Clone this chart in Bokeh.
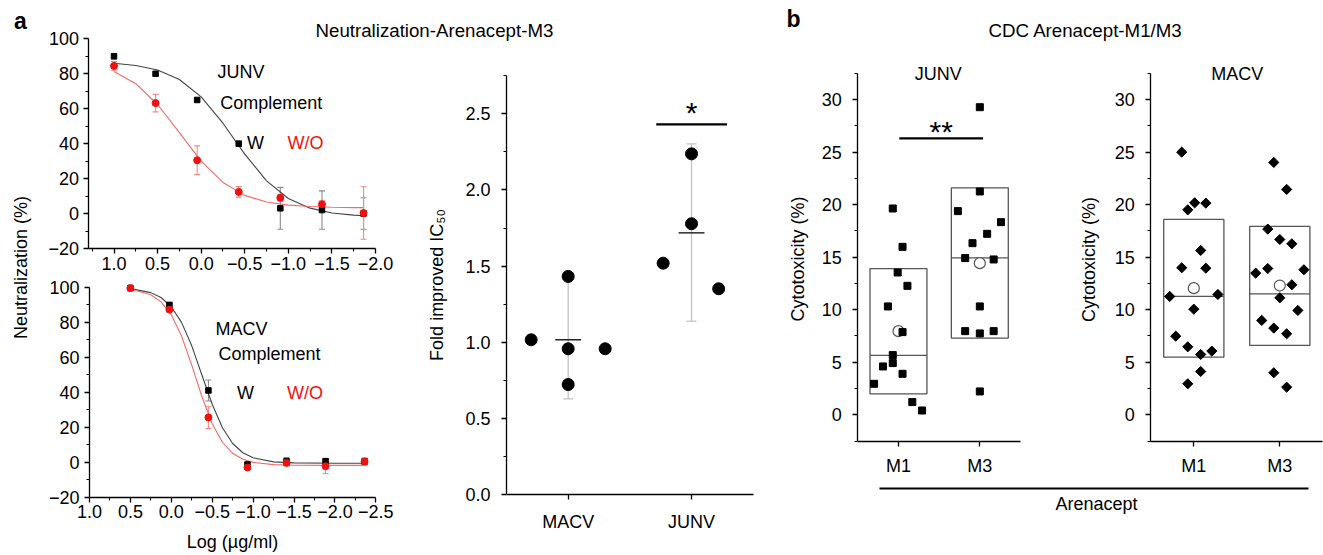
import math
from bokeh.plotting import figure
from bokeh.models import (Range1d, FixedTicker, CustomJSTickFormatter, Label, LinearAxis,
                          Whisker, TeeHead, ColumnDataSource)
from bokeh.core.properties import value
from bokeh.embed import file_html
from bokeh.resources import INLINE

FONT = "Liberation Sans"
RED = "#ee1111"

# ---------------- panel a: neutralization (log ug/ml vs %) ----------------
junv_logc = [1.0, 0.523, 0.046, -0.431, -0.908, -1.386, -1.863]
junv_w = [90.0, 80.0, 65.0, 40.0, 3.0, 2.0, 0.0]
junv_w_err = [1.5, 1.0, 1.0, 1.5, 12.0, 11.0, 9.0]
junv_wo = [84.5, 63.2, 30.5, 12.4, 9.0, 5.3, 0.3]
junv_wo_err = [2.5, 5.0, 8.2, 3.0, 2.0, 2.0, 15.0]

curve_junv_x = [1.0, 0.75, 0.5, 0.25, 0.0, -0.25, -0.5, -0.75, -1.0, -1.25, -1.5, -1.75, -1.863]
curve_junv_w = [86.0, 84.7, 82.1, 76.7, 66.8, 51.7, 34.0, 18.7, 8.6, 3.1, 0.3, -0.9, -1.3]
curve_junv_wo = [81.3, 74.3, 62.4, 46.3, 30.0, 17.8, 10.4, 6.6, 4.8, 4.0, 3.6, 3.4, 3.4]

macv_logc = [0.5, 0.023, -0.454, -0.931, -1.409, -1.886, -2.363]
macv_w = [99.5, 89.9, 41.0, -1.3, 0.6, 0.6, 0.4]
macv_w_err = [0.5, 1.0, 6.0, 1.0, 2.0, 1.0, 2.0]
macv_wo = [99.5, 87.2, 25.6, -3.0, -0.4, -2.3, 0.4]
macv_wo_err = [0.5, 1.0, 6.4, 1.0, 1.5, 4.2, 1.5]

curve_macv_x = [0.5, 0.25, 0.125, 0.0, -0.125, -0.25, -0.375, -0.5, -0.625, -0.75, -0.875,
                -1.0, -1.25, -1.5, -2.0, -2.363]
curve_macv_w = [99.2, 96.9, 94.1, 88.8, 79.9, 66.5, 49.7, 33.1, 19.7, 10.7, 5.4,
                2.5, 0.2, -0.4, -0.6, -0.6]
curve_macv_wo = [99.0, 95.7, 91.6, 84.2, 72.1, 55.5, 37.4, 22.0, 11.4, 5.1, 1.7,
                 -0.1, -1.4, -1.7, -1.8, -1.8]

# ---------------- panel a: fold improved IC50 ----------------
fold_cats = ["MACV", "JUNV"]
fold_macv = [1.016, 1.432, 0.957, 0.722, 0.957]
fold_macv_jitter = [-0.30, 0.0, 0.0, 0.0, 0.30]
fold_junv = [1.519, 2.237, 1.778, 1.351]
fold_junv_jitter = [-0.23, 0.0, 0.0, 0.22]
fold_mean = [1.016, 1.718]
fold_low = [0.628, 1.138]
fold_high = [1.432, 2.303]
fold_sig = (1.714, 2.288, 2.43)   # bar from, to, height
fold_star = "*"

# ---------------- panel b: cytotoxicity ----------------
b_cats = ["M1", "M3"]
junv_m1 = [19.63, 15.98, 13.54, 12.27, 10.31, 7.87, 5.68, 4.92, 4.60, 3.90, 2.95, 1.21, 0.41]
junv_m1_jit = [-0.07, 0.05, -0.01, 0.11, -0.13, 0.05, -0.07, -0.07, -0.19, 0.05, -0.30, 0.17, 0.29]
junv_m3 = [29.27, 21.25, 19.38, 18.33, 17.22, 16.33, 14.91, 14.78, 10.31, 7.96, 7.74, 7.96, 2.22]
junv_m3_jit = [0.0, 0.0, -0.27, 0.26, 0.09, -0.09, -0.18, 0.17, 0.0, -0.18, 0.0, 0.17, 0.0]
junv_box_low = [2.0, 7.3]
junv_box_high = [13.9, 21.6]
junv_median = [5.65, 14.94]
junv_mean = [7.96, 14.43]
junv_sig = (1.01, 2.04, 26.3)

macv_m1 = [24.99, 20.17, 20.14, 19.5, 15.64, 13.99, 13.95, 11.26, 11.45, 10.05, 7.48, 6.47,
           5.74, 6.06, 4.12, 2.95]
macv_m1_jit = [-0.14, 0.01, 0.14, -0.07, 0.08, -0.14, 0.14, -0.28, 0.28, 0.0, -0.21, -0.07,
               0.08, 0.21, 0.08, -0.07]
macv_m3 = [24.01, 21.44, 17.67, 16.68, 16.27, 13.48, 13.92, 13.8, 12.37, 11.13, 9.93, 8.98,
           8.25, 7.71, 4.0, 2.63]
macv_m3_jit = [-0.07, 0.08, -0.14, 0.0, 0.14, -0.28, -0.14, 0.28, 0.14, 0.0, 0.21, -0.21,
               -0.07, 0.08, -0.07, 0.08]
macv_box_low = [5.49, 6.6]
macv_box_high = [18.59, 17.92]
macv_median = [11.26, 11.51]
macv_mean = [12.05, 12.3]

# ---------------- one canvas, page-pixel coordinates for the free texts ----------------
X0, X1, Y0, Y1 = 0, 1323, 0, 555
p = figure(width=X1 - X0, height=Y1 - Y0, x_range=Range1d(X0, X1), y_range=Range1d(Y1, Y0),
           x_axis_type=None, y_axis_type=None, min_border=0, output_backend="svg",
           toolbar_location=None, tools="")
p.outline_line_color = None
p.background_fill_color = "white"
p.border_fill_color = "white"


def lin_range(pa, va, pb, vb, lo, hi):
    k = (vb - va) / (pb - pa)
    return Range1d(va + (lo - pa) * k, va + (hi - pa) * k)


def add_panel(name, xpix, ypix):
    """xpix/ypix: two (pixel, value) pairs fixing each panel scale on the page."""
    (xa, xva), (xb, xvb) = xpix
    (ya, yva), (yb, yvb) = ypix
    p.extra_x_ranges[name] = lin_range(xa, xva, xb, xvb, X0, X1)
    p.extra_y_ranges[name] = lin_range(ya, yva, yb, yvb, Y1, Y0)


def minus_fmt(decimals):
    return CustomJSTickFormatter(code=(
        "const s = Math.abs(tick).toFixed(%d);" % decimals +
        "return (tick < -1e-9 ? '\u2212' : '') + s;"))


def style_axis(ax, standoff):
    ax.axis_line_color = "black"
    ax.axis_line_width = 1.3
    ax.major_tick_line_color = "black"
    ax.major_tick_line_width = 1.3
    ax.minor_tick_line_color = "black"
    ax.minor_tick_line_width = 1.1
    ax.major_tick_in = 0
    ax.major_tick_out = 5
    ax.minor_tick_in = 0
    ax.minor_tick_out = 3
    ax.major_label_text_font = FONT
    ax.major_label_text_font_size = "18px"
    ax.major_label_text_color = "black"
    ax.major_label_standoff = standoff


def add_axes(name, xbounds, ybounds, xt, xminor, yt, yminor, xfmt=None, yfmt=None,
             xover=None, xstand=3, ystand=5):
    xa = LinearAxis(x_range_name=name, y_range_name=name, fixed_location=ybounds[0],
                    bounds=xbounds, ticker=FixedTicker(ticks=xt, minor_ticks=xminor))
    if xfmt is not None:
        xa.formatter = xfmt
    if xover is not None:
        xa.major_label_overrides = xover
    style_axis(xa, xstand)
    p.add_layout(xa, "below")
    ya = LinearAxis(x_range_name=name, y_range_name=name, fixed_location=min(xbounds),
                    bounds=ybounds, ticker=FixedTicker(ticks=yt, minor_ticks=yminor))
    if yfmt is not None:
        ya.formatter = yfmt
    style_axis(ya, ystand)
    p.add_layout(ya, "left")


def neut_panel(name, xpix, ypix, xbounds, xt, xminor, logc, w, w_err, wo, wo_err, cx, cw, cwo):
    add_panel(name, xpix, ypix)
    # reversed x-axis: its left end is the larger value
    xa = LinearAxis(x_range_name=name, y_range_name=name, fixed_location=-20,
                    bounds=xbounds, ticker=FixedTicker(ticks=xt, minor_ticks=xminor),
                    formatter=minus_fmt(1))
    style_axis(xa, 3)
    p.add_layout(xa, "below")
    ya = LinearAxis(x_range_name=name, y_range_name=name, fixed_location=max(xbounds),
                    bounds=(-20, 100),
                    ticker=FixedTicker(ticks=[-20, 0, 20, 40, 60, 80, 100],
                                       minor_ticks=[-10, 10, 30, 50, 70, 90]),
                    formatter=minus_fmt(0))
    style_axis(ya, 5)
    p.add_layout(ya, "left")
    kw = dict(x_range_name=name, y_range_name=name)
    p.line(cx, cw, line_color="#444444", line_width=1.1, **kw)
    p.line(cx, cwo, line_color="#f26a6a", line_width=1.1, **kw)
    sw = ColumnDataSource(dict(x=logc, upper=[a + b for a, b in zip(w, w_err)],
                               lower=[a - b for a, b in zip(w, w_err)]))
    swo = ColumnDataSource(dict(x=logc, upper=[a + b for a, b in zip(wo, wo_err)],
                                lower=[a - b for a, b in zip(wo, wo_err)]))
    for src, col in ((sw, "#8a8a8a"), (swo, "#f28a8a")):
        p.add_layout(Whisker(source=src, base="x", upper="upper", lower="lower",
                             line_color=col, line_width=1.1,
                             upper_head=TeeHead(size=6, line_color=col, line_width=1.1),
                             lower_head=TeeHead(size=6, line_color=col, line_width=1.1), **kw))
    p.scatter(logc, w, marker="square", size=5.5, color="black", **kw)
    p.scatter(logc, wo, marker="circle", size=7, color=RED, **kw)


neut_panel("junv_neut", ((113.5, 1.0), (375.0, -2.0)), ((248.0, -20), (38.3, 100)),
           (-2.0, 1.287), [1.0, 0.5, 0.0, -0.5, -1.0, -1.5, -2.0],
           [1.25, 0.75, 0.25, -0.25, -0.75, -1.25, -1.75],
           junv_logc, junv_w, junv_w_err, junv_wo, junv_wo_err,
           curve_junv_x, curve_junv_w, curve_junv_wo)
neut_panel("macv_neut", ((89.0, 1.0), (375.3, -2.5)), ((496.7, -20), (286.7, 100)),
           (-2.5, 1.0), [1.0, 0.5, 0.0, -0.5, -1.0, -1.5, -2.0, -2.5],
           [0.75, 0.25, -0.25, -0.75, -1.25, -1.75, -2.25],
           macv_logc, macv_w, macv_w_err, macv_wo, macv_wo_err,
           curve_macv_x, curve_macv_w, curve_macv_wo)

# ---------------- fold improved IC50 panel ----------------
add_panel("fold", ((506.0, 0.5), (752.7, 2.5)), ((494.0, 0.0), (113.3, 2.5)))
add_axes("fold", (0.5, 2.5), (0.0, 2.75), [1, 2], [],
         [0, 0.5, 1.0, 1.5, 2.0, 2.5], [0.25, 0.75, 1.25, 1.75, 2.25, 2.75],
         yfmt=minus_fmt(1), xover={1: fold_cats[0], 2: fold_cats[1]}, xstand=12, ystand=11)
fk = dict(x_range_name="fold", y_range_name="fold")
fold_pos = [1, 2]
p.add_layout(Whisker(source=ColumnDataSource(dict(x=fold_pos, upper=fold_high, lower=fold_low)),
                     base="x", upper="upper", lower="lower", line_color="#c4c4c4", line_width=1.3,
                     upper_head=TeeHead(size=10, line_color="#c4c4c4", line_width=1.3),
                     lower_head=TeeHead(size=10, line_color="#c4c4c4", line_width=1.3), **fk))
p.segment(x0=[c - 0.105 for c in fold_pos], x1=[c + 0.105 for c in fold_pos],
          y0=fold_mean, y1=fold_mean, line_color="black", line_width=1.3, **fk)
p.scatter([1 + j for j in fold_macv_jitter], fold_macv, marker="circle", size=12, color="black", **fk)
p.scatter([2 + j for j in fold_junv_jitter], fold_junv, marker="circle", size=12, color="black", **fk)
p.segment(x0=[fold_sig[0]], x1=[fold_sig[1]], y0=[fold_sig[2]], y1=[fold_sig[2]],
          line_color="black", line_width=2.2, **fk)
p.text(x=[(fold_sig[0] + fold_sig[1]) / 2], y=[2.51], text=[fold_star],
       text_font=value(FONT), text_font_size="30px", text_align="center",
       text_baseline="alphabetic", text_color="black", **fk)


# ---------------- cytotoxicity panels ----------------
def cyto_panel(name, xpix, xbounds, m1, m1j, m3, m3j, low, high, med, mean, size, angle):
    add_panel(name, xpix, ((414.3, 0.0), (99.0, 30.0)))
    add_axes(name, xbounds, (-2.5, 32.5), [1, 2], [],
             [0, 5, 10, 15, 20, 25, 30], [-2.5, 2.5, 7.5, 12.5, 17.5, 22.5, 27.5, 32.5],
             xover={1: b_cats[0], 2: b_cats[1]}, xstand=10, ystand=11)
    kw = dict(x_range_name=name, y_range_name=name)
    pos = [1, 2]
    p.quad(left=[c - 0.35 for c in pos], right=[c + 0.35 for c in pos], bottom=low, top=high,
           fill_color=None, line_color="#555555", line_width=1.3, **kw)
    p.segment(x0=[c - 0.35 for c in pos], x1=[c + 0.35 for c in pos], y0=med, y1=med,
              line_color="#555555", line_width=1.3, **kw)
    p.scatter(pos, mean, marker="circle", size=11, fill_color="white",
              line_color="#555555", line_width=1.2, **kw)
    p.scatter([1 + j for j in m1j], m1, marker="square", size=size, angle=angle, color="black", **kw)
    p.scatter([2 + j for j in m3j], m3, marker="square", size=size, angle=angle, color="black", **kw)


cyto_panel("junv_cdc", ((857.3, 0.5), (1020.0, 2.5)), (0.5, 2.5),
           junv_m1, junv_m1_jit, junv_m3, junv_m3_jit,
           junv_box_low, junv_box_high, junv_median, junv_mean, 7, 0)
p.segment(x0=[junv_sig[0]], x1=[junv_sig[1]], y0=[junv_sig[2]], y1=[junv_sig[2]],
          line_color="black", line_width=2.2, x_range_name="junv_cdc", y_range_name="junv_cdc")
p.text(x=[(junv_sig[0] + junv_sig[1]) / 2], y=[27.0], text=["**"],
       text_font=value(FONT), text_font_size="30px", text_align="center",
       text_baseline="alphabetic", text_color="black",
       x_range_name="junv_cdc", y_range_name="junv_cdc")

cyto_panel("macv_cdc", ((1150.3, 0.5), (1322.3, 2.5)), (0.5, 2.5),
           macv_m1, macv_m1_jit, macv_m3, macv_m3_jit,
           macv_box_low, macv_box_high, macv_median, macv_mean, 7.2, math.pi / 4)


# ---------------- panel letters, titles, axis titles, in-plot notes ----------------
def lab(x, y, t, size="18px", color="black", style="normal", align="center",
        baseline="middle", angle=0.0):
    p.add_layout(Label(x=x, y=y, text=t, text_font=FONT, text_font_size=size,
                       text_color=color, text_font_style=style, text_align=align,
                       text_baseline=baseline, angle=angle))


lab(20, 20, "a", size="23px", style="bold")
lab(793, 18, "b", size="23px", style="bold")
lab(315, 30, "Neutralization-Arenacept-M3", size="18.7px", align="left")
lab(988, 30, "CDC Arenacept-M1/M3", size="18.7px", align="left")
lab(20, 267, "Neutralization (%)", angle=math.pi / 2)
lab(232, 541, "Log (\u00b5g/ml)")
lab(436, 284.5, "Fold improved IC\u2085\u2080", angle=math.pi / 2)
lab(797.5, 258.6, "Cytotoxicity (%)", angle=math.pi / 2)
lab(1088, 259, "Cytotoxicity (%)", angle=math.pi / 2)
lab(240.6, 71, "JUNV")
lab(270.8, 102, "Complement")
lab(255, 142, "W")
lab(305, 142, "W/O", color=RED)
lab(241, 328.5, "MACV")
lab(269, 353.5, "Complement")
lab(245, 392, "W")
lab(304.5, 392, "W/O", color=RED)
lab(937.7, 73, "JUNV")
lab(1236.7, 73, "MACV")
lab(1096, 503, "Arenacept")
p.segment(x0=[879], y0=[488], x1=[1308], y1=[488], line_color="black", line_width=2)

open("out.html", "w").write(file_html(p, INLINE))
